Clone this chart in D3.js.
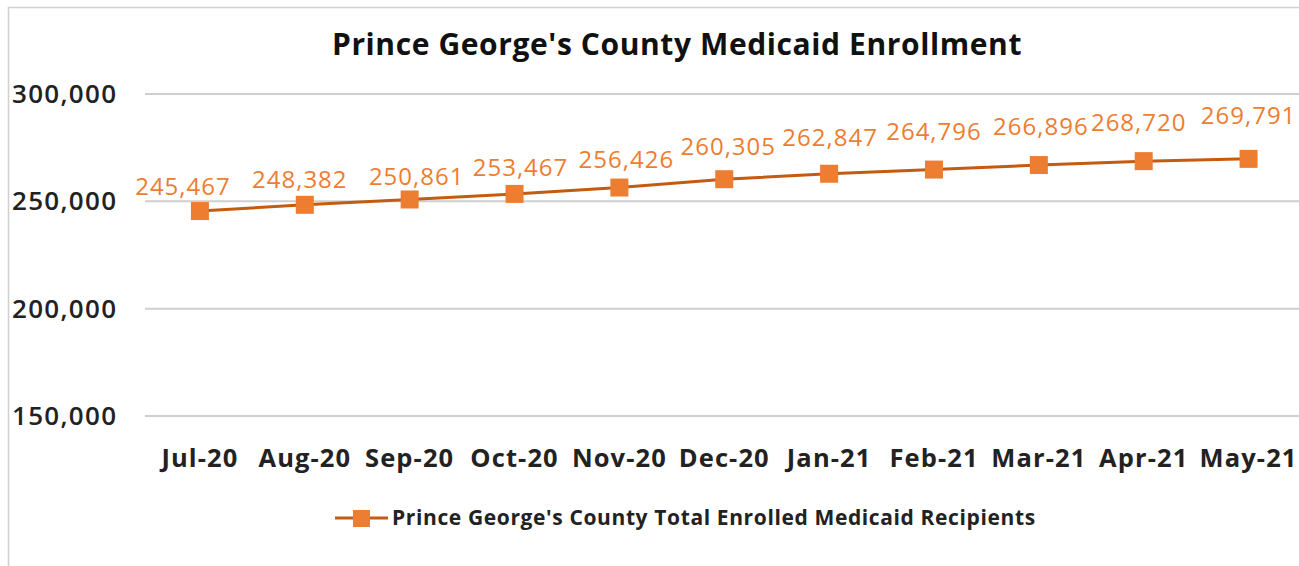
<!DOCTYPE html>
<html><head><meta charset="utf-8">
<script src="https://cdn.jsdelivr.net/npm/d3@7"></script>
<style>body{margin:0;background:#fff;} svg{display:block;}</style>
</head><body>
<svg id="chart" width="1299" height="566"></svg>
<script>
const title = "Prince George's County Medicaid Enrollment";
const seriesName = "Prince George's County Total Enrolled Medicaid Recipients";
const months = ["Jul-20","Aug-20","Sep-20","Oct-20","Nov-20","Dec-20","Jan-21","Feb-21","Mar-21","Apr-21","May-21"];
const enrolled = [245467,248382,250861,253467,256426,260305,262847,264796,266896,268720,269791];
const yTicks = [150000,200000,250000,300000];

// layout: manual data-label nudges (dx, baseline offset above point) as in the original
const labelDx = [-17,-5,7,6,7,4,1,0,2,-5,0];
const labelDy = [16,17,14,18,20,24,28,30,30,30,35];

const svg = d3.select("#chart");
const font = "'Open Sans', 'Noto Sans', sans-serif";
const orange = "#ED7D31", lineCol = "#C55A11";

svg.append("rect").attr("x",8.5).attr("y",7.5).attr("width",1400).attr("height",700)
  .attr("fill","#fff").attr("stroke","#d0d0d0").attr("stroke-width",1.5);

const x = d3.scaleBand().domain(months).range([147.5,1301]);
const y = d3.scaleLinear().domain([150000,300000]).range([416,94]);

// gridlines
svg.append("g").selectAll("line").data(yTicks).join("line")
  .attr("x1",145).attr("x2",1299).attr("y1",d=>y(d)).attr("y2",d=>y(d))
  .attr("stroke","#cfcfcf").attr("stroke-width",2);

// y labels
const fmt = d3.format(",");
svg.append("g").selectAll("text").data(yTicks).join("text")
  .attr("x",12).attr("y",d=>y(d)).attr("dy","0.35em")
  .attr("font-family",font).attr("font-weight",600).attr("font-size",26).attr("letter-spacing",1.3).attr("fill","#222")
  .text(d=>fmt(d));

// x labels
const xAxis = svg.append("g").attr("transform","translate(0,467)")
  .call(d3.axisBottom(x).tickSize(0).tickPadding(0));
xAxis.select(".domain").remove();
xAxis.selectAll("text").attr("font-family",font).attr("font-weight",700).attr("font-size",25.5)
  .attr("letter-spacing",1.1).attr("fill","#222").attr("dy",0).attr("y",0);

// title
svg.append("text").attr("x",677).attr("y",55).attr("text-anchor","middle")
  .attr("font-family",font).attr("font-weight",700).attr("font-size",30).attr("letter-spacing",0.6).attr("fill","#111").text(title);

// line
const cx = d => x(d.m) + x.bandwidth()/2;
const pts = months.map((m,i)=>({m, v:enrolled[i], i}));
svg.append("path").datum(pts)
  .attr("d", d3.line().x(cx).y(d=>y(d.v)))
  .attr("fill","none").attr("stroke",lineCol).attr("stroke-width",3);

svg.append("g").selectAll("rect").data(pts).join("rect")
  .attr("x",d=>cx(d)-9).attr("y",d=>y(d.v)-9).attr("width",18).attr("height",18).attr("fill",orange);

svg.append("g").selectAll("text").data(pts).join("text")
  .attr("x",d=>cx(d)+labelDx[d.i]).attr("y",d=>y(d.v)-labelDy[d.i]).attr("text-anchor","middle")
  .attr("font-family",font).attr("font-size",24).attr("fill",orange).attr("letter-spacing",1)
  .text(d=>fmt(d.v));

// legend
const lg = svg.append("g");
lg.append("line").attr("x1",335).attr("x2",388).attr("y1",518).attr("y2",518).attr("stroke",lineCol).attr("stroke-width",3);
lg.append("rect").attr("x",353).attr("y",510).attr("width",17).attr("height",17).attr("fill",orange);
lg.append("text").attr("x",392).attr("y",525)
  .attr("font-family",font).attr("font-weight",700).attr("font-size",21).attr("letter-spacing",0.62).attr("fill","#222").text(seriesName);
</script>
</body></html>
